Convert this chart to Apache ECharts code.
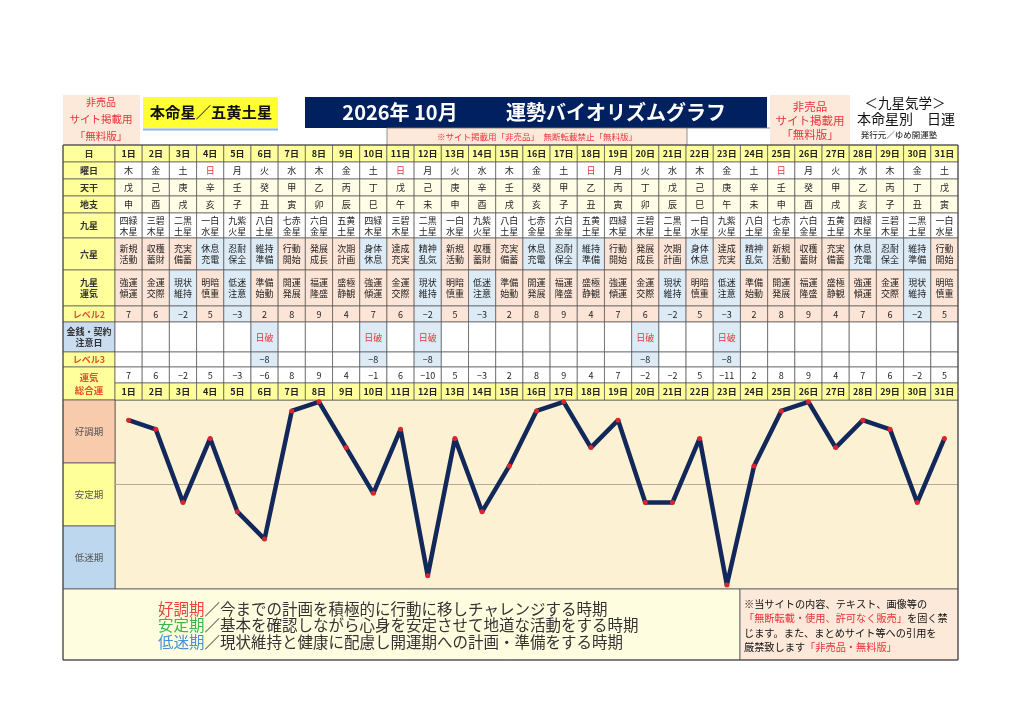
<!DOCTYPE html>
<html><head><meta charset="utf-8">
<script src="https://cdn.jsdelivr.net/npm/echarts@6/dist/echarts.min.js"></script>
<style>html,body{margin:0;padding:0;background:#fff}#c{width:1024px;height:724px}</style>
</head><body><div id="c"></div>
<script>
const days = ['1日','2日','3日','4日','5日','6日','7日','8日','9日','10日','11日','12日','13日','14日','15日','16日','17日','18日','19日','20日','21日','22日','23日','24日','25日','26日','27日','28日','29日','30日','31日'];
const weekdays = ['木','金','土','日','月','火','水','木','金','土','日','月','火','水','木','金','土','日','月','火','水','木','金','土','日','月','火','水','木','金','土'];
const tenkan = ['戊','己','庚','辛','壬','癸','甲','乙','丙','丁','戊','己','庚','辛','壬','癸','甲','乙','丙','丁','戊','己','庚','辛','壬','癸','甲','乙','丙','丁','戊'];
const chishi = ['申','酉','戌','亥','子','丑','寅','卯','辰','巳','午','未','申','酉','戌','亥','子','丑','寅','卯','辰','巳','午','未','申','酉','戌','亥','子','丑','寅'];
const kyusei = ['四緑木星','三碧木星','二黒土星','一白水星','九紫火星','八白土星','七赤金星','六白金星','五黄土星','四緑木星','三碧木星','二黒土星','一白水星','九紫火星','八白土星','七赤金星','六白金星','五黄土星','四緑木星','三碧木星','二黒土星','一白水星','九紫火星','八白土星','七赤金星','六白金星','五黄土星','四緑木星','三碧木星','二黒土星','一白水星'];
const rokusei = ['新規活動','収穫蓄財','充実備蓄','休息充電','忍耐保全','維持準備','行動開始','発展成長','次期計画','身体休息','達成充実','精神乱気','新規活動','収穫蓄財','充実備蓄','休息充電','忍耐保全','維持準備','行動開始','発展成長','次期計画','身体休息','達成充実','精神乱気','新規活動','収穫蓄財','充実備蓄','休息充電','忍耐保全','維持準備','行動開始'];
const rokuseiLow = ['休息充電','忍耐保全','維持準備','身体休息','精神乱気'];
const unki = ['強運傾運','金運交際','現状維持','明暗慎重','低迷注意','準備始動','開運発展','福運隆盛','盛極静観','強運傾運','金運交際','現状維持','明暗慎重','低迷注意','準備始動','開運発展','福運隆盛','盛極静観','強運傾運','金運交際','現状維持','明暗慎重','低迷注意','準備始動','開運発展','福運隆盛','盛極静観','強運傾運','金運交際','現状維持','明暗慎重'];
const unkiLow = ['現状維持','低迷注意'];
const level2 = [7,6,-2,5,-3,2,8,9,4,7,6,-2,5,-3,2,8,9,4,7,6,-2,5,-3,2,8,9,4,7,6,-2,5];
const kinsen = ['','','','','','日破','','','','日破','','日破','','','','','','','','日破','','','日破','','','','','','','',''];
const level3 = [null,null,null,null,null,-8,null,null,null,-8,null,-8,null,null,null,null,null,null,null,-8,null,null,-8,null,null,null,null,null,null,null,null];
const total = [7,6,-2,5,-3,-6,8,9,4,-1,6,-10,5,-3,2,8,9,4,7,-2,-2,5,-11,2,8,9,4,7,6,-2,5];
const periodLabels = ['好調期','安定期','低迷期'];

const FONT = '"Noto Sans CJK JP","Noto Sans",sans-serif';
const YEL = '#ffff9c', SAL = '#fce4d6', BLU = '#ddebf7', PALE = '#fffde6', RED = '#e8333a', LRED = '#e4502c';
const L = 63, GX = 115, GW = 843, GR = GX + GW;

const ROWS = [
  {label:'日', y:145, h:17},
  {label:'曜日', y:162, h:17},
  {label:'天干', y:179, h:17},
  {label:'地支', y:196, h:17},
  {label:'九星', y:213, h:25},
  {label:'六星', y:238, h:32},
  {label:'九星\n運気', y:270, h:36},
  {label:'レベル2', y:306, h:16, color:LRED},
  {label:'金銭・契約\n注意日', y:322, h:30, bg:'#c9dcf0'},
  {label:'レベル3', y:352, h:15, color:LRED},
  {label:null, y:367, h:16},
  {label:null, y:383, h:17}
];
const num = v => v == null ? '' : String(v).replace('-', '−');
const two = s => s.slice(0,2) + '\n' + s.slice(2);

function cellInfo(r, d) {
  switch (r) {
    case 0: return {text: days[d], fill: YEL, bold: true};
    case 1: return {text: weekdays[d], fill: '#fff', color: weekdays[d] === '日' ? RED : '#222'};
    case 2: return {text: tenkan[d], fill: PALE};
    case 3: return {text: chishi[d], fill: PALE};
    case 4: return {text: two(kyusei[d]), fill: '#fff'};
    case 5: return {text: two(rokusei[d]), fill: rokuseiLow.includes(rokusei[d]) ? BLU : SAL};
    case 6: return {text: two(unki[d]), fill: unkiLow.includes(unki[d]) ? BLU : SAL};
    case 7: return {text: num(level2[d]), fill: level2[d] < 0 ? BLU : SAL};
    case 8: return {text: kinsen[d], fill: kinsen[d] ? BLU : '#fff', color: RED};
    case 9: return {text: num(level3[d]), fill: level3[d] != null ? BLU : '#fff'};
    case 10: return {text: num(total[d]), fill: '#fff'};
    case 11: return {text: days[d], fill: YEL, bold: true};
  }
}

const tableData = [];
for (let r = 0; r < ROWS.length; r++) for (let d = 0; d < days.length; d++) tableData.push([d, r]);

function renderCell(params, api) {
  const d = api.value(0), r = api.value(1);
  const c = api.coord([d, 0]);
  const w = api.size([1, 0])[0];
  const row = ROWS[r];
  const info = cellInfo(r, d);
  return {type: 'group', children: [
    {type: 'rect', shape: {x: c[0] - w / 2, y: row.y, width: w, height: row.h},
     style: {fill: info.fill, stroke: '#555', lineWidth: 0.7}},
    {type: 'text', style: {text: info.text, x: c[0], y: row.y + row.h / 2 + 0.5, align: 'center', verticalAlign: 'middle',
      textAlign: 'center', textVerticalAlign: 'middle',
      fill: info.color || '#222', fontSize: 9, lineHeight: 11, fontFamily: FONT, fontWeight: info.bold ? 'bold' : 'normal'}}
  ]};
}

const graphics = [];
function rect(x, y, w, h, fill, stroke, lw) {
  graphics.push({type: 'rect', shape: {x, y, width: w, height: h}, style: {fill, stroke: stroke || null, lineWidth: lw || 0.7}, z: 1});
}
function text(t, x, y, size, color, opts) {
  graphics.push(Object.assign({type: 'text', z: 5, style: Object.assign({text: t, x, y, fontSize: size, fill: color, fontFamily: FONT,
    align: 'center', verticalAlign: 'middle', textAlign: 'center', textVerticalAlign: 'middle'}, opts || {})}));
}
function line(x1, y1, x2, y2, color, w) {
  graphics.push({type: 'line', shape: {x1, y1, x2, y2}, style: {stroke: color, lineWidth: w || 0.7}, z: 3});
}

// header
rect(L, 95, 77, 50, '#fde9d9');
text('非売品', L + 38, 102, 10, RED);
text('サイト掲載用', L + 38, 119, 10.5, RED);
text('「無料版」', L + 38, 136, 10.5, RED);
rect(143, 97, 135, 31, '#ffff33');
line(143, 129.5, 278, 129.5, '#8db3e2', 2);
text('本命星／五黄土星', 211, 112, 15.3, '#111', {fontWeight: 'bold'});
rect(305, 97, 462, 31, '#002060');
text('2026年 10月', 400, 112, 20, '#fff', {fontWeight: 'bold'});
text('運勢バイオリズムグラフ', 616, 112, 20, '#fff', {fontWeight: 'bold'});
rect(387, 128, 300, 17, '#fde9d9');
line(387, 128, 770, 128, '#777', 0.8);
line(387, 128, 387, 145, '#777', 0.8);
line(687, 128, 687, 145, '#777', 0.8);
text('※サイト掲載用「非売品」　無断転載禁止「無料版」', 537, 136.5, 8.5, RED);
rect(770, 95, 80, 50, '#fde9d9');
text('非売品', 810, 107, 11.5, RED);
text('サイト掲載用', 810, 121, 11.5, RED);
text('「無料版」', 810, 135, 11.5, RED);
text('＜九星気学＞', 905, 103, 13.5, '#111');
text('本命星別　日運', 906, 119, 14, '#111');
text('発行元／ゆめ開運塾', 899, 135, 8.5, '#111');

// label column
ROWS.forEach(row => {
  if (row.label == null) return;
  rect(L, row.y, GX - L, row.h, row.bg || YEL, '#555', 0.7);
  text(row.label, (L + GX) / 2, row.y + row.h / 2 + 0.5, 9, row.color || '#333', {lineHeight: 11, fontWeight: 'bold'});
});
rect(L, 367, GX - L, 33, YEL, '#555', 0.7);
text('運気\n総合運', (L + GX) / 2, 384, 9.5, LRED, {lineHeight: 13, fontWeight: 'bold'});

// chart period labels
const bandCols = ['#f8cbad', '#ffff9a', '#bdd7ee'];
const bandY = [400, 463, 526, 589];
periodLabels.forEach((p, i) => {
  rect(L, bandY[i], GX - L, bandY[i + 1] - bandY[i], bandCols[i], '#555', 0.8);
  text(p, (L + GX) / 2, (bandY[i] + bandY[i + 1]) / 2, 9.5, '#555');
});

// footer
rect(L, 589, 740 - L, 71, '#fffddf', '#555', 0.8);
rect(740, 589, GR - 740, 71, '#fde9d9', '#555', 0.8);
const footLines = [
  ['好調期', '#e8443a', '／今までの計画を積極的に行動に移しチャレンジする時期'],
  ['安定期', '#3cb44b', '／基本を確認しながら心身を安定させて地道な活動をする時期'],
  ['低迷期', '#4a8fd6', '／現状維持と健康に配慮し開運期への計画・準備をする時期']
];
footLines.forEach((f, i) => {
  graphics.push({type: 'text', z: 5, style: {
    text: '{a|' + f[0] + '}{b|' + f[2] + '}', x: 158, y: 609 + i * 16.5,
    align: 'left', verticalAlign: 'middle', textAlign: 'left', textVerticalAlign: 'middle',
    rich: {a: {fontSize: 15.5, fill: f[1], color: f[1], fontFamily: FONT}, b: {fontSize: 15.5, fill: '#333', color: '#333', fontFamily: FONT}}
  }});
});
const noteRich = {k: {fontSize: 10.2, fill: '#111', color: '#111', fontFamily: FONT}, r: {fontSize: 10.2, fill: RED, color: RED, fontFamily: FONT}};
['{k|※当サイトの内容、テキスト、画像等の}', '{r|「無断転載・使用、許可なく販売」}{k|を固く禁}', '{k|じます。また、まとめサイト等への引用を}', '{k|厳禁致します}{r|「非売品・無料版」}']
  .forEach((t, i) => {
    graphics.push({type: 'text', z: 5, style: {text: t, x: 744, y: 604 + i * 14.5, align: 'left', verticalAlign: 'middle',
      textAlign: 'left', textVerticalAlign: 'middle', rich: noteRich}});
  });
// outer border
graphics.push({type: 'rect', shape: {x: L, y: 145, width: GR - L, height: 515}, style: {fill: null, stroke: '#444', lineWidth: 1}, z: 6});

const chart = echarts.init(document.getElementById('c'));
chart.setOption({
  animation: false,
  backgroundColor: '#fff',
  grid: [
    {left: GX, width: GW, top: 400, height: 189, show: true, backgroundColor: '#fdf1d3', borderColor: '#555', borderWidth: 0.8},
    {left: GX, width: GW, top: 145, height: 254, show: false}
  ],
  xAxis: [
    {type: 'category', data: days, gridIndex: 0, show: false, boundaryGap: true},
    {type: 'category', data: days, gridIndex: 1, show: false, boundaryGap: true}
  ],
  yAxis: [
    {type: 'value', gridIndex: 0, min: -11.45, max: 9.2, show: false, splitLine: {show: false}},
    {type: 'value', gridIndex: 1, min: 0, max: 20, show: false, splitLine: {show: false}}
  ],
  series: [
    {type: 'custom', xAxisIndex: 1, yAxisIndex: 1, data: tableData, renderItem: renderCell, clip: false, silent: true, encode: {x: 0, y: 1}},
    {type: 'line', data: total, xAxisIndex: 0, yAxisIndex: 0, symbol: 'circle', symbolSize: 5,
     itemStyle: {color: '#d9262c', borderWidth: 0}, lineStyle: {color: '#13285a', width: 4.5}, z: 5,
     markLine: {silent: true, symbol: 'none', label: {show: false}, data: [{yAxis: 0}], lineStyle: {color: '#b5ab9a', width: 1, type: 'solid'}, z: 1}}
  ],
  graphic: graphics
});
</script></body></html>
